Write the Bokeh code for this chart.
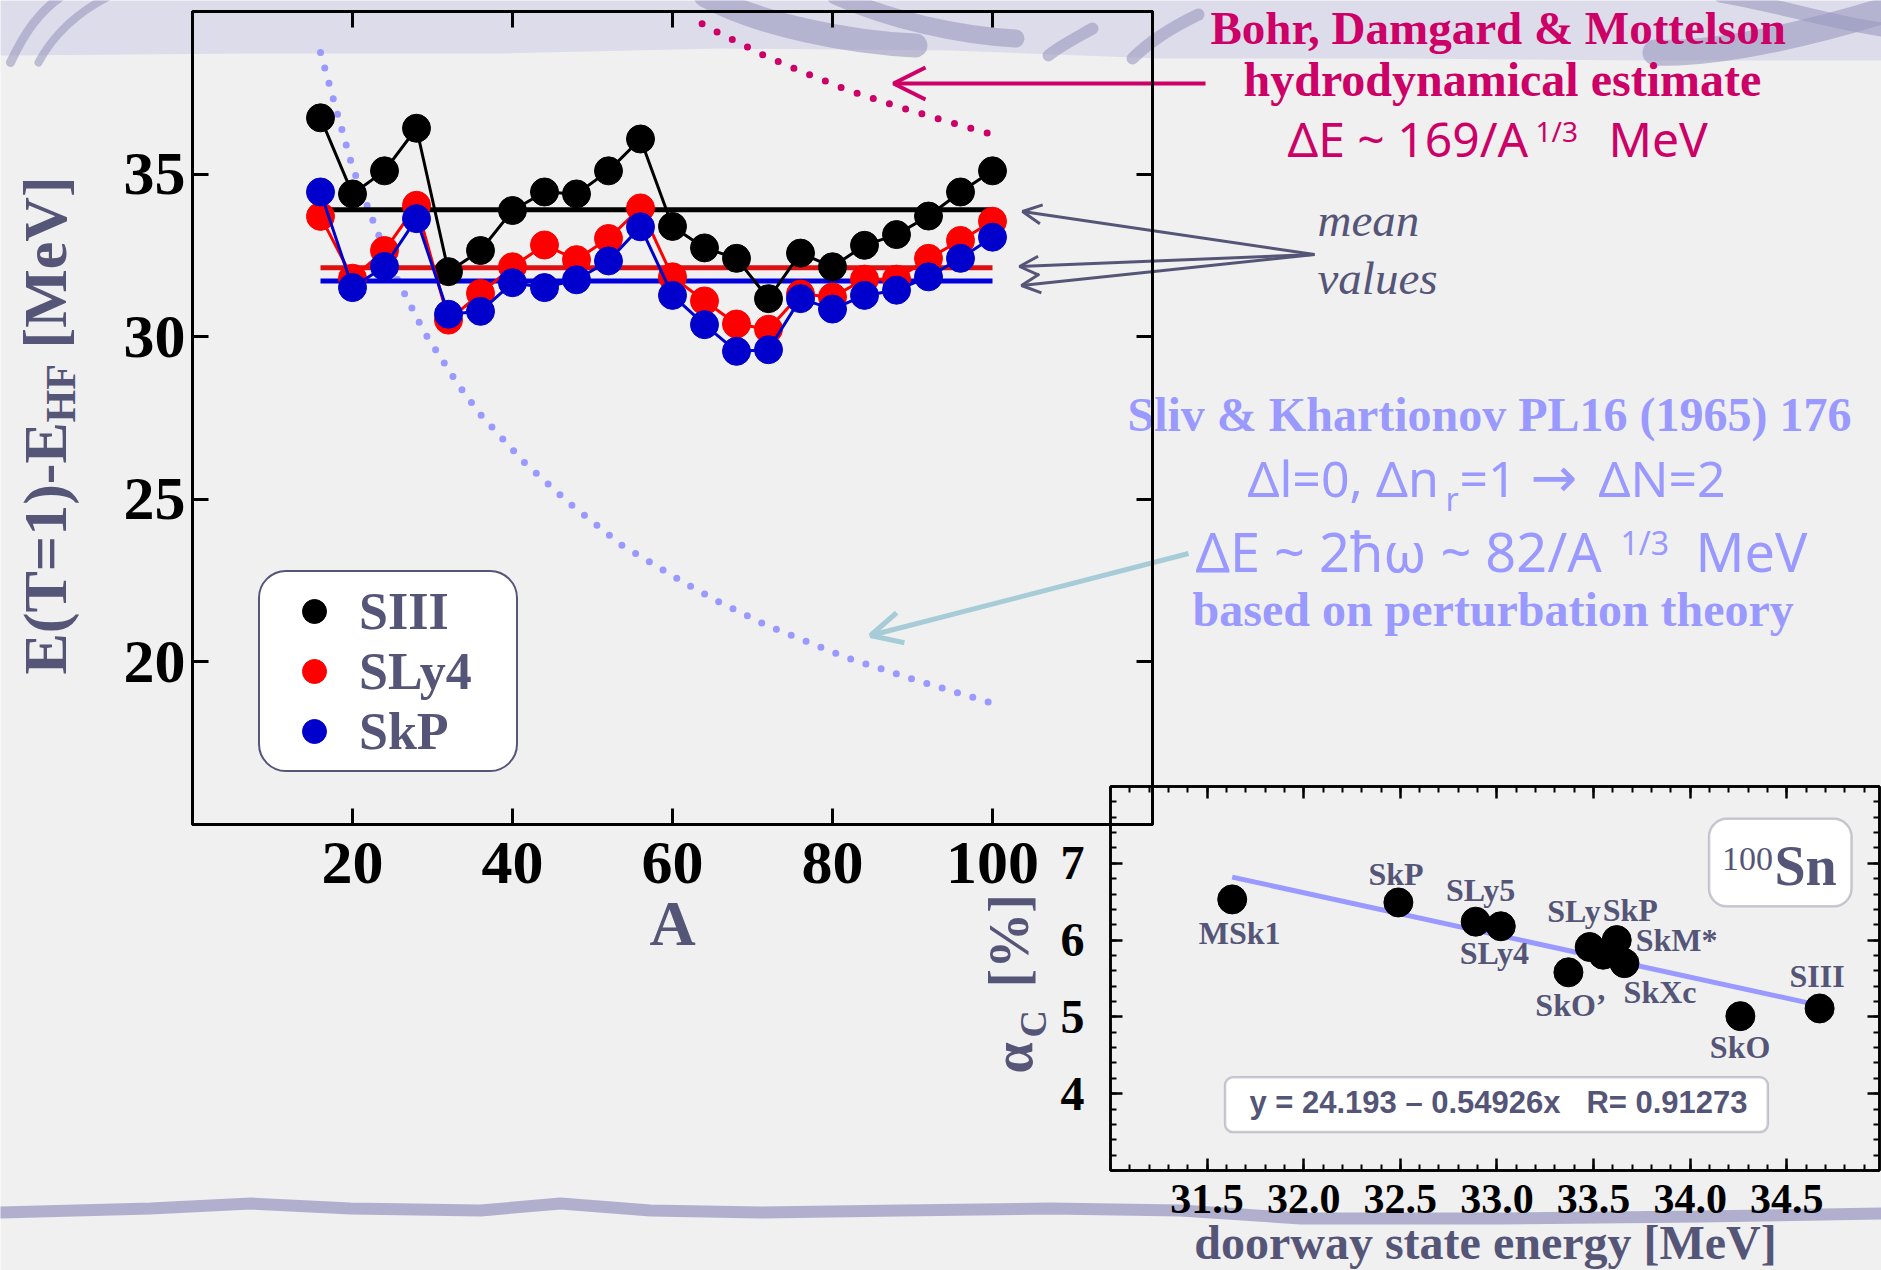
from bokeh.plotting import figure
from bokeh.models import (Range1d, LinearAxis, FixedTicker, PrintfTickFormatter, Label, LabelSet,
                          Arrow, OpenHead, Legend, LegendItem, BoxAnnotation, ColumnDataSource)
from bokeh.embed import file_html
from bokeh.resources import INLINE
from bokeh.core.properties import value

W, H = 1881, 1270

# ---------------- data: main panel ----------------
A_NUCLEON = [16, 20, 24, 28, 32, 36, 40, 44, 48, 52, 56, 60, 64, 68, 72, 76, 80, 84, 88, 92, 96, 100]
E_SIII = [36.73, 34.39, 35.10, 36.41, 32.00, 32.65, 33.88, 34.45, 34.39, 35.10, 36.08,
          33.39, 32.73, 32.41, 31.17, 32.57, 32.15, 32.81, 33.14, 33.71, 34.45, 35.10]
E_SLY4 = [33.70, 31.80, 32.65, 34.04, 30.51, 31.33, 32.15, 32.82, 32.37, 33.02, 33.96,
          31.84, 31.10, 30.39, 30.23, 31.31, 31.22, 31.77, 31.77, 32.41, 32.96, 33.55]
E_SKP = [34.45, 31.51, 32.16, 33.63, 30.69, 30.78, 31.66, 31.51, 31.75, 32.33, 33.38,
         31.27, 30.37, 29.55, 29.60, 31.17, 30.85, 31.27, 31.43, 31.84, 32.41, 33.06]
SERIES_NAMES = ["SIII", "SLy4", "SkP"]
MEAN_A = [16, 100]
MEAN_SIII = 33.90
MEAN_SLY4 = 32.12
MEAN_SKP = 31.71
# hydrodynamical estimate (Bohr, Damgard & Mottelson), dotted
BDM_A = [63.7, 65.6, 71.6, 75.6, 81.6, 87.6, 93.6, 99.7]
BDM_E = [39.62, 39.37, 38.63, 38.21, 37.61, 37.12, 36.67, 36.24]
# perturbation estimate (Sliv & Khartionov), dotted
SLIV_A = [16.0, 17.6, 20.0, 22.85, 25.7, 29.0, 33.2, 35.9, 41.5, 47.1, 53.7, 61.7, 65.7, 71.8, 81.8, 90.0, 100.0]
SLIV_E = [38.74, 37.31, 35.21, 33.38, 31.71, 30.13, 28.53, 27.63, 26.13, 24.88, 23.58, 22.40, 21.86,
          21.12, 20.13, 19.47, 18.73]
X_TICKS = [20, 40, 60, 80, 100]
Y_TICKS = [20, 25, 30, 35]

# ---------------- data: inset (100Sn) ----------------
FORCES = ["MSk1", "SkP", "SLy5", "SLy4", "SLy", "SkM*", "SkP", "SkXc", "SkO\u2019", "SkO", "SIII"]
DOORWAY_E = [31.63, 32.49, 32.89, 33.02, 33.48, 33.55, 33.62, 33.66, 33.37, 34.26, 34.67]
ALPHA_C = [6.53, 6.49, 6.24, 6.18, 5.91, 5.81, 6.00, 5.70, 5.58, 5.01, 5.11]
FIT_INTERCEPT = 24.193
FIT_SLOPE = -0.54926
FIT_R = 0.91273
INSET_X_TICKS = [31.5, 32.0, 32.5, 33.0, 33.5, 34.0, 34.5]
INSET_Y_TICKS = [4, 5, 6, 7]

# label placement (screen px offsets of each force name from its point)
LABEL_DX = [7.5, -2.3, 5.0, -6.4, -15.7, 73.4, 13.6, 35.6, 2.5, -0.3, -2.6]
LABEL_DY = [-44.7, 17.3, 20.6, -37.3, 25.0, 3.3, 19.3, -40.0, -43.3, -42.3, 21.6]

SERIF = "Liberation Serif"
SANS = "Liberation Sans"
COMIC = "Noto Sans"
SYM = "DejaVu Sans"
PINK = "#CC0066"
PERI = "#9999FF"
GRAY = "#555577"
LBLUE = "#A6CCD8"
BG = "#F0F0F0"


def set_if(model, name, val):
    if name in model.properties():
        setattr(model, name, val)


# ================= background / annotation layer =================
bg = figure(width=W, height=H, x_range=Range1d(0, W), y_range=Range1d(H, 0),
            x_axis_type=None, y_axis_type=None, toolbar_location=None, output_backend="svg",
            min_border=0, background_fill_color=BG, border_fill_color=BG, outline_line_color=None)

# slide decoration: top band and swooshes, bottom wave
TOP_BAND_X = [0, 1881, 1881, 1650, 1400, 1160, 950, 720, 500, 250, 0]
TOP_BAND_Y = [0, 0, 60, 60, 58, 58, 50, 48, 53, 53, 55]
bg.patch(TOP_BAND_X, TOP_BAND_Y, fill_color="#DCDCEA", line_color=None)
SW = ColumnDataSource(dict(
    x0=[10, 38, 705, 835, 1048, 1132, 1655, 1720],
    y0=[62, 62, -5, -5, 55, 58, 52, -5],
    x1=[62, 110, 915, 1015, 1092, 1198, 1890, 1890],
    y1=[-5, -5, 45, 38, 28, 14, 8, 30],
    cx0=[25, 55, 760, 890, 1060, 1150, 1720, 1780],
    cy0=[30, 30, 25, 20, 45, 40, 55, 5],
    cx1=[40, 80, 850, 960, 1080, 1175, 1820, 1840],
    cy1=[10, 10, 42, 35, 35, 25, 30, 25],
    w=[9, 8, 24, 18, 12, 12, 26, 14]))
bg.bezier(x0="x0", y0="y0", x1="x1", y1="y1", cx0="cx0", cy0="cy0", cx1="cx1", cy1="cy1",
          line_width="w", line_color="#9A9ABF", line_alpha=0.6, line_cap="round", source=SW)
BOT_X = [0, 150, 250, 350, 480, 560, 650, 760, 900, 1050, 1180, 1300, 1500, 1700, 1881]
BOT_Y = [1212, 1208, 1203, 1208, 1210, 1203, 1210, 1212, 1210, 1208, 1210, 1218, 1218, 1216, 1213]
bg.line(BOT_X, BOT_Y, line_width=12, line_color="#A4A4C8", line_alpha=0.85, line_cap="round")

# empirical baseline correction of Label text (fraction of the font size)
SHIFT = {SERIF: 0.34, SANS: 0.34, COMIC: 0.39, SYM: 0.39}


def lab(x, y, text, size, color, font=SERIF, style="bold", align="left", angle=0.0):
    if angle == 0.0:
        y = y - SHIFT[font] * size
    bg.add_layout(Label(x=x, y=y, text=text, text_font=font, text_font_size=f"{size}px",
                        text_font_style=style, text_color=color, text_align=align,
                        text_baseline="alphabetic", angle=angle))


ROT = 1.5707963267948966
# main y-axis title  E(T=1)-E_HF [MeV]
lab(44, 674, "E(T=1)-E", 62, GRAY, angle=ROT)
lab(60, 422, "HF", 42, GRAY, angle=ROT)
lab(44, 348, "[MeV]", 62, GRAY, angle=ROT)
# inset y-axis title  alpha_C [%]
lab(1012, 1073, "\u03b1", 56, GRAY, angle=ROT)
lab(1032, 1037, "C", 38, GRAY, angle=ROT)
lab(1008, 987, "[%]", 56, GRAY, angle=ROT)
# inset x-axis title
lab(1485, 1258, "doorway state energy [MeV]", 48, GRAY, align="center")

# annotations
lab(1210, 43, "Bohr, Damgard & Mottelson", 47, PINK)
lab(1243, 95, "hydrodynamical estimate", 48, PINK)
lab(1287, 157, "\u0394E ~ 169/A", 48, PINK, font=COMIC, style="normal")
lab(1535, 141, "1/3", 28, PINK, font=COMIC, style="normal")
lab(1608, 157, "MeV", 48, PINK, font=COMIC, style="normal")
lab(1317, 235, "mean", 47, GRAY, style="italic")
lab(1317, 293, "values", 47, GRAY, style="italic")
lab(1127, 430, "Sliv & Khartionov PL16 (1965) 176", 48, PERI)
lab(1247, 497, "\u0394l=0, \u0394n", 50, PERI, font=COMIC, style="normal")
lab(1445, 510, "r", 32, PERI, font=COMIC, style="normal")
lab(1459, 497, "=1", 50, PERI, font=COMIC, style="normal")
lab(1530, 499, "\u2192", 56, PERI, font=SYM, style="normal")
lab(1598, 497, "\u0394N=2", 50, PERI, font=COMIC, style="normal")
lab(1195, 572, "\u0394E ~ 2\u0127\u03c9 ~ 82/A", 54, PERI, font=COMIC, style="normal")
lab(1620, 554, "1/3", 32, PERI, font=COMIC, style="normal")
lab(1695, 572, "MeV", 54, PERI, font=COMIC, style="normal")
lab(1192, 625, "based on perturbation theory", 48, PERI)


def arrow(xs, ys, xe, ye, color, width, size):
    bg.add_layout(Arrow(x_start=xs, y_start=ys, x_end=xe, y_end=ye, line_color=color,
                        line_width=width, end=OpenHead(size=size, line_color=color, line_width=width)))


arrow(1205, 83, 893, 83, PINK, 4, 32)
arrow(1314, 254, 1022, 211, GRAY, 3, 19)
arrow(1314, 254, 1019, 266, GRAY, 3, 19)
arrow(1314, 254, 1021, 285, GRAY, 3, 19)
arrow(1188, 553, 870, 635, LBLUE, 5, 31)


def tick_only_axis(ticks, minor, tick_in, minor_in, width):
    return LinearAxis(ticker=FixedTicker(ticks=ticks, minor_ticks=minor),
                      major_label_text_font_size="1px", major_label_text_color=None,
                      major_label_standoff=0,
                      major_tick_in=tick_in, major_tick_out=0, minor_tick_in=minor_in, minor_tick_out=0,
                      axis_line_width=width, major_tick_line_width=width,
                      minor_tick_line_width=2)


# ================= main panel =================
p = figure(width=W, height=H, x_range=Range1d(0, 120), y_range=Range1d(15, 40),
           toolbar_location=None, output_backend="svg",
           min_border_left=192, min_border_right=W - 1152, min_border_top=11, min_border_bottom=H - 824,
           background_fill_color=None, border_fill_color=None,
           outline_line_color="black", outline_line_width=3)
p.grid.visible = False
p.xaxis.ticker = FixedTicker(ticks=X_TICKS)
p.yaxis.ticker = FixedTicker(ticks=Y_TICKS)
for ax in (p.xaxis[0], p.yaxis[0]):
    ax.major_label_text_font = SERIF
    ax.major_label_text_font_style = "bold"
    ax.major_label_text_font_size = "62px"
    ax.major_label_text_color = "black"
    ax.major_tick_in = 16
    ax.major_tick_out = 0
    ax.minor_tick_in = 0
    ax.minor_tick_out = 0
    ax.axis_line_width = 3
    ax.major_tick_line_width = 3
p.xaxis.major_label_standoff = 18
p.yaxis.major_label_standoff = 7
p.xaxis.axis_label = "A"
p.xaxis.axis_label_text_font = SERIF
p.xaxis.axis_label_text_font_style = "bold"
p.xaxis.axis_label_text_font_size = "64px"
p.xaxis.axis_label_text_color = GRAY
p.xaxis.axis_label_standoff = 2
p.add_layout(tick_only_axis(X_TICKS, [], 16, 0, 3), "above")
p.add_layout(tick_only_axis(Y_TICKS, [], 16, 0, 3), "right")

# model curves
p.line(BDM_A, BDM_E, line_color=PINK, line_width=7, line_dash="0 17", line_cap="round")
p.line(SLIV_A, SLIV_E, line_color=PERI, line_width=7, line_dash="0 16", line_cap="round")

# mean values
p.line(MEAN_A, [MEAN_SIII, MEAN_SIII], line_color="black", line_width=5)
p.line(MEAN_A, [MEAN_SLY4, MEAN_SLY4], line_color="#DD1111", line_width=5)
p.line(MEAN_A, [MEAN_SKP, MEAN_SKP], line_color="#0000DD", line_width=5)

renderers = []
for vals, col in ((E_SIII, "black"), (E_SLY4, "#FF0000"), (E_SKP, "#0000CC")):
    p.line(A_NUCLEON, vals, line_color=col, line_width=3)
    renderers.append(p.scatter(A_NUCLEON, vals, size=28, fill_color=col, line_color=col))

legend = Legend(items=[LegendItem(label=n, renderers=[r]) for n, r in zip(SERIES_NAMES, renderers)],
                location=(66, 52), label_text_font=SERIF, label_text_font_style="bold",
                label_text_font_size="52px", label_text_color=GRAY,
                border_line_color=GRAY, border_line_width=2.5, border_line_alpha=1,
                background_fill_color="white", background_fill_alpha=1,
                padding=9, spacing=0, glyph_width=90, glyph_height=60,
                label_standoff=0, label_width=148, label_height=57)
set_if(legend, "border_radius", 28)
p.add_layout(legend)

# ================= inset panel =================
q = figure(width=W, height=H, x_range=Range1d(31.0, 34.98), y_range=Range1d(3.0, 8.0),
           toolbar_location=None, output_backend="svg",
           min_border_left=1110, min_border_right=2, min_border_top=786, min_border_bottom=100,
           background_fill_color=None, border_fill_color=None,
           outline_line_color="black", outline_line_width=2.5)
q.grid.visible = False
INSET_X_MINOR = [round(31.0 + 0.1 * i, 1) for i in range(40)]
INSET_Y_MINOR = [round(3.0 + 0.2 * i, 1) for i in range(26)]
q.xaxis.ticker = FixedTicker(ticks=INSET_X_TICKS, minor_ticks=INSET_X_MINOR)
q.yaxis.ticker = FixedTicker(ticks=INSET_Y_TICKS, minor_ticks=INSET_Y_MINOR)
q.xaxis.formatter = PrintfTickFormatter(format="%.1f")
for ax in (q.xaxis[0], q.yaxis[0]):
    ax.major_label_text_font = SERIF
    ax.major_label_text_font_style = "bold"
    ax.major_label_text_color = "black"
    ax.major_tick_in = 12
    ax.major_tick_out = 0
    ax.minor_tick_in = 6
    ax.minor_tick_out = 0
    ax.axis_line_width = 2.5
    ax.major_tick_line_width = 2.5
    ax.minor_tick_line_width = 2
q.xaxis.major_label_text_font_size = "42px"
q.yaxis.major_label_text_font_size = "48px"
q.xaxis.major_label_standoff = 14
q.yaxis.major_label_standoff = 26
q.add_layout(tick_only_axis(INSET_X_TICKS, INSET_X_MINOR, 12, 6, 2.5), "above")
q.add_layout(tick_only_axis(INSET_Y_TICKS, INSET_Y_MINOR, 12, 6, 2.5), "right")

FIT_X = [min(DOORWAY_E), max(DOORWAY_E)]
FIT_Y = [FIT_INTERCEPT + FIT_SLOPE * x for x in FIT_X]
q.line(FIT_X, FIT_Y, line_color=PERI, line_width=5)
q.scatter(DOORWAY_E, ALPHA_C, size=29, fill_color="black", line_color="black")
src_in = ColumnDataSource(dict(x=DOORWAY_E, y=ALPHA_C, name=FORCES, dx=LABEL_DX, dy=LABEL_DY))
q.add_layout(LabelSet(x="x", y="y", text="name", x_offset="dx", y_offset="dy", source=src_in,
                      text_font=value(SERIF), text_font_style="bold", text_font_size="32px",
                      text_color=GRAY, text_align="center", text_baseline="alphabetic"))

box_sn = BoxAnnotation(left=34.098, right=34.835, top=7.58, bottom=6.44, fill_color="white",
                       fill_alpha=1, line_color=GRAY, line_width=2.5)
set_if(box_sn, "border_radius", 18)
q.add_layout(box_sn)
q.add_layout(Label(x=34.165, y=7.06, text="100", text_font=SERIF, text_font_size="34px",
                   text_color=GRAY, text_baseline="alphabetic"))
q.add_layout(Label(x=34.436, y=6.97, text="Sn", text_font=SERIF, text_font_size="56px",
                   text_font_style="bold", text_color=GRAY, text_baseline="alphabetic"))
box_eq = BoxAnnotation(left=31.593, right=34.402, top=4.215, bottom=3.5, fill_color="white",
                       fill_alpha=1, line_color=GRAY, line_width=2.5)
set_if(box_eq, "border_radius", 8)
q.add_layout(box_eq)
eq_text = (f"y = {FIT_INTERCEPT} \u2013 {abs(FIT_SLOPE)}x\u00a0\u00a0\u00a0R= {FIT_R}")
q.add_layout(Label(x=33.008, y=3.88, text=eq_text, text_font=SANS, text_font_size="31px",
                   text_font_style="bold", text_color=GRAY, text_align="center",
                   text_baseline="alphabetic"))

# stack the transparent panels on top of the slide layer (separate roots, no frame alignment)
p.styles = {"position": "absolute", "left": "0px", "top": "0px"}
q.styles = {"position": "absolute", "left": "0px", "top": "0px"}

with open("out.html", "w", encoding="utf-8") as f:
    f.write(file_html([bg, p, q], INLINE, title="Doorway state energies"))
